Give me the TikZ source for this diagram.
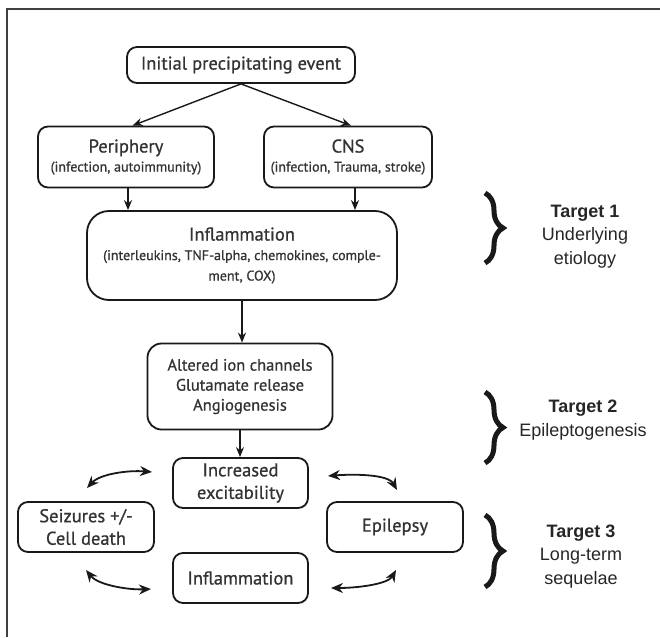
\documentclass[tikz,border=0pt]{standalone}
\usepackage{fontspec}
\setmainfont{PT Sans}[FakeBold=0.8]
\newfontfamily\arialfont{Liberation Sans}
\usetikzlibrary{arrows.meta,decorations.pathreplacing}
\newcommand{\subf}{\fontsize{14}{16}\selectfont}
\begin{document}
\begin{tikzpicture}[x=1pt,y=-1pt,
  box/.style={draw=black!90, line width=1.8pt, rounded corners=10pt, align=center, inner sep=0pt, text=black!80, font=\fontsize{18.5}{22.5}\selectfont},
  arr/.style={-{Stealth[length=10pt,width=8pt]}, line width=1.4pt, black!90},
  darr/.style={{Stealth[length=12pt,width=10pt]}-{Stealth[length=12pt,width=10pt]}, line width=1.8pt, black!90},
  brc/.style={decorate, decoration={brace, amplitude=18pt}, line width=5pt, black!90},
  tgt/.style={font=\arialfont\fontsize{18}{23.5}\selectfont, align=center, text=black!85, inner sep=0pt}
]
\useasboundingbox (0,0) rectangle (660,637);
\fill[white] (0,0) rectangle (660,637);
\draw[line width=1.4pt, black!75] (7,637) -- (7,9) -- (660,9);

\node[box, minimum width=228pt, minimum height=36pt] (init) at (241,65) {Initial precipitating event};
\node[box, minimum width=176pt, minimum height=61pt] (per) at (126,157) {Periphery\\[-3.5pt]{\subf (infection, autoimmunity)}};
\node[box, minimum width=168pt, minimum height=61pt] (cns) at (348,157) {CNS\\[-3.5pt]{\subf (infection, Trauma, stroke)}};
\node[box, rounded corners=22pt, minimum width=310pt, minimum height=89pt] (inf) at (242,255.5) {Inflammation\\[-3pt]{\subf (interleukins, TNF-alpha, chemokines, comple-}\\[-2pt]{\subf ment, COX)}};
\node[box, rounded corners=14pt, minimum width=185pt, minimum height=86pt, font=\fontsize{16.5}{20}\selectfont] (alt) at (240,386.5) {Altered ion channels\\Glutamate release\\Angiogenesis};
\node[box, minimum width=135pt, minimum height=50pt] (inc) at (240.5,483) {Increased\\excitability};
\node[box, minimum width=136pt, minimum height=50pt] (sei) at (86,527) {Seizures +/-\\Cell death};
\node[box, minimum width=136pt, minimum height=50pt] (epi) at (395,527) {Epilepsy};
\node[box, minimum width=135pt, minimum height=50pt] (inf2) at (240.5,578) {Inflammation};

\draw[arr] (init.south) -- ([xshift=6.5pt]per.north);
\draw[arr] (init.south) -- ([xshift=3pt]cns.north);
\draw[arr] ([xshift=2pt]per.south) -- ([xshift=2pt]per.south |- inf.north);
\draw[arr] ([xshift=7pt]cns.south) -- ([xshift=7pt]cns.south |- inf.north);
\draw[arr] (inf.south) -- (inf.south |- alt.north);
\draw[arr] (alt.south) -- (alt.south |- inc.north);

\coordinate (a1) at (87,488); \coordinate (a2) at (152,472);
\coordinate (b1) at (328,476); \coordinate (b2) at (397,490);
\coordinate (c1) at (86,570); \coordinate (c2) at (151,589);
\coordinate (d1) at (331,588); \coordinate (d2) at (396,570);
\draw[darr] (a1) .. controls (100,474) and (128,470) .. (a2);
\draw[darr] (b1) .. controls (352,474) and (388,474) .. (b2);
\draw[darr] (c1) .. controls (98,585) and (128,590) .. (c2);
\draw[darr] (d1) .. controls (358,588) and (388,584) .. (d2);

\draw[brc] (485,193) -- (485,263);
\draw[brc] (485,392) -- (485,463);
\draw[brc] (485,515) -- (485,587);

\node[tgt] (t1) at (585,236.5) {\textbf{Target 1}\\Underlying\\etiology};
\node[tgt] (t2) at (583,420) {\textbf{Target 2}\\Epileptogenesis};
\node[tgt] (t3) at (581,556.5) {\textbf{Target 3}\\Long-term\\sequelae};
\end{tikzpicture}
\end{document}
